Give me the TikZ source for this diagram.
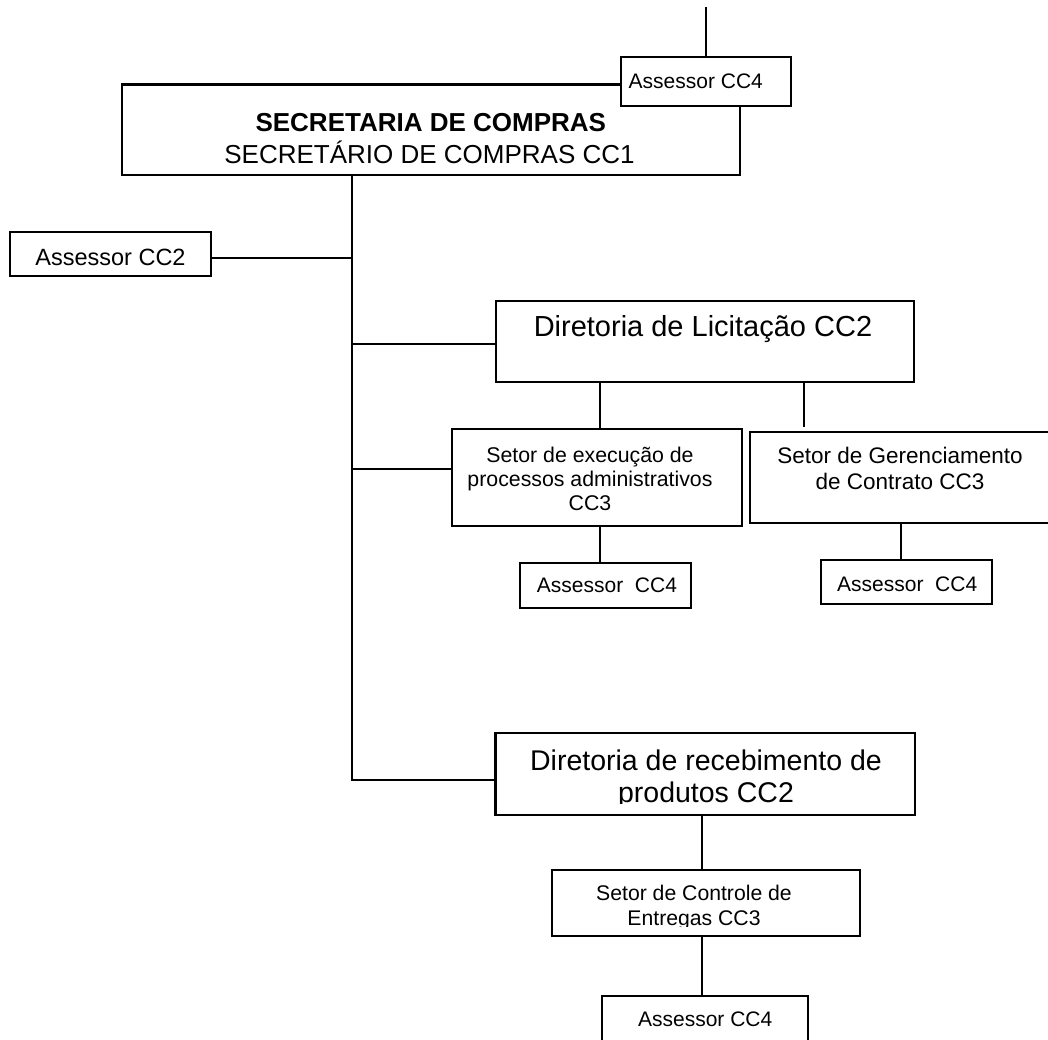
\documentclass[tikz,border=0pt]{standalone}
\usepackage{fontspec}
\setmainfont{Liberation Sans}
% font size helper: size in pt, baselineskip equal to it
\newcommand{\setfs}[1]{\fontsize{#1}{#1}\selectfont}
\begin{document}
\begin{tikzpicture}[x=1pt,y=-1pt,
  box/.style={draw, line width=2.2pt, inner sep=0pt, outer sep=0pt, rectangle},
  conn/.style={line width=2.2pt},
  lbl/.style={inner sep=0pt, outer sep=0pt, anchor=base},
]
\useasboundingbox (0,0) rectangle (1048,1039);
\clip (0,0) rectangle (1048,1039);

% ---------- boxes ----------
\node[box, minimum width=618pt, minimum height=90.5pt] (main) at (431,129.75) {};
\node[box, fill=white, minimum width=170pt, minimum height=48.5pt] (a4top) at (706,81.5) {};
\node[box, minimum width=200.7pt, minimum height=43.7pt] (a2) at (110.35,254.15) {};
\node[box, minimum width=418.6pt, minimum height=81pt] (dl) at (705,341.2) {};
\node[box, minimum width=290.3pt, minimum height=96.7pt] (se) at (596.85,477.65) {};
\node[box, minimum width=320pt, minimum height=91.6pt] (sg) at (910,477.5) {};
\node[box, minimum width=170.7pt, minimum height=45.6pt] (a4l) at (605.35,585.5) {};
\node[box, minimum width=171pt, minimum height=44.3pt] (a4r) at (906.2,582.15) {};
\node[box, minimum width=419.5pt, minimum height=82.3pt] (dr) at (705.25,773.85) {};
\node[box, minimum width=307.7pt, minimum height=66pt] (sc) at (706.15,903) {};
\node[box, minimum width=206pt, minimum height=64pt] (a4b) at (705.3,1028) {};

% ---------- labels ----------
\node[lbl, anchor=base west, font=\setfs{21}] (t-a4top) at (628.7,88.3) {Assessor CC4};
\node[lbl, font=\bfseries\setfs{26}] (t-main1) at (430.8,131.7) {SECRETARIA DE COMPRAS};
\node[lbl, font=\setfs{26}] (t-main2) at (429.5,163.3) {SECRETÁRIO DE COMPRAS CC1};
\node[lbl, font=\setfs{23.5}] (t-a2) at (110.5,265) {Assessor CC2};
\node[lbl, font=\setfs{29}] (t-dl) at (703,336.7) {Diretoria de Licitação CC2};
\node[lbl, font=\setfs{21.3}] (t-se1) at (590,462) {Setor de execução de};
\node[lbl, font=\setfs{21.3}] (t-se2) at (590,486) {processos administrativos};
\node[lbl, font=\setfs{21.3}] (t-se3) at (590,510) {CC3};
\node[lbl, font=\setfs{22.5}] (t-sg1) at (900,463.3) {Setor de Gerenciamento};
\node[lbl, font=\setfs{22.5}] (t-sg2) at (900,489.3) {de Contrato CC3};
\node[lbl, font=\setfs{21}] (t-a4l) at (607,592.5) {Assessor~ CC4};
\node[lbl, font=\setfs{21}] (t-a4r) at (907.2,591) {Assessor~ CC4};
\node[lbl, font=\setfs{28.5}] (t-dr1) at (706,770) {Diretoria de recebimento de};
\begin{scope}
  \clip (500,780) rectangle (910,803.5);
  \node[lbl, font=\setfs{28.5}] (t-dr2) at (706,802) {produtos CC2};
\end{scope}
\node[lbl, font=\setfs{21.2}] (t-sc1) at (694,900.7) {Setor de Controle de};
\begin{scope}
  \clip (556,905) rectangle (855,926.5);
  \node[lbl, font=\setfs{21.2}] (t-sc2) at (694,925) {Entregas CC3};
\end{scope}
\node[lbl, font=\setfs{21}] (t-a4b) at (705.2,1026.7) {Assessor CC4};

% ---------- connectors ----------
\coordinate (topend) at (706,7);
\coordinate (spinex) at (351.7,0);
\coordinate (spinebot) at (351.7,780);
\coordinate (j1) at (351.7,258.3);
\coordinate (j2) at (351.7,344);
\coordinate (j3) at (351.7,469.3);
\coordinate (c1) at (600,0);
\coordinate (c2) at (804,427);
\coordinate (c3) at (901,0);
\coordinate (c4) at (702.3,0);

\draw[conn] (topend) -- (a4top.north);
\draw[conn] (main.south -| spinex) -- (spinebot) -- (spinebot -| dr.west);
\draw[conn] (j1 -| a2.east) -- (j1);
\draw[conn] (j2) -- (j2 -| dl.west);
\draw[conn] (j3) -- (j3 -| se.west);
\draw[conn] (dl.south -| c1) -- (se.north -| c1);
\draw[conn] (dl.south -| c2) -- (c2);
\draw[conn] (se.south -| c1) -- (a4l.north -| c1);
\draw[conn] (sg.south -| c3) -- (a4r.north -| c3);
\draw[conn] (dr.south -| c4) -- (sc.north -| c4);
\draw[conn] (sc.south -| c4) -- (a4b.north -| c4);
\end{tikzpicture}
\end{document}
